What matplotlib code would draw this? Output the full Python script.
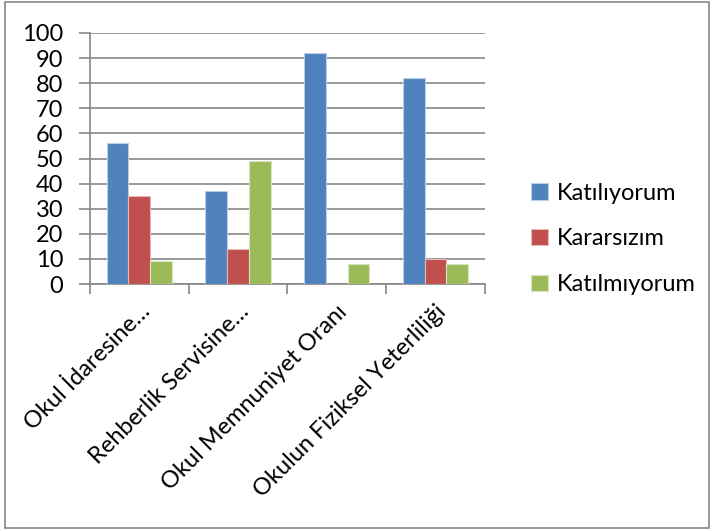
import numpy as np
import matplotlib.pyplot as plt
from matplotlib.patches import Rectangle

categories = ["Okul İdaresine…", "Rehberlik Servisine…",
              "Okul Memnuniyet Oranı", "Okulun Fiziksel Yeterliliği"]
katiliyorum = [56, 37, 92, 82]
kararsizim = [35, 14, 0, 10]
katilmiyorum = [9, 49, 8, 8]

series_names = ["Katılıyorum", "Kararsızım", "Katılmıyorum"]
colors = ["#4F81BD", "#C0504D", "#9BBB59"]
edges = ["#B9CDE5", "#E6B9B8", "#D7E4BD"]

plt.rcParams['font.family'] = ['Lato', 'DejaVu Sans']

fig = plt.figure(figsize=(7.13, 5.31), dpi=100)
ax = fig.add_axes([0.126, 0.465, 0.554, 0.473])

x = np.arange(len(categories))
w = 0.22
for i, vals in enumerate([katiliyorum, kararsizim, katilmiyorum]):
    ax.bar(x + (i - 1) * w, vals, width=w, color=colors[i],
           edgecolor=edges[i], linewidth=0.8, label=series_names[i], zorder=3)

ax.set_xlim(-0.5, len(categories) - 0.5)
ax.set_ylim(0, 100)
ax.set_yticks(range(0, 101, 10))
ax.yaxis.grid(True, color="#868686", linewidth=1.2, zorder=0)

# ticks at category borders, labels at centers
ax.set_xticks(np.arange(len(categories) + 1) - 0.5)
ax.set_xticklabels([])
ax.set_xticks(x, minor=True)
ax.set_xticklabels(categories, minor=True, rotation=45, ha="right",
                   rotation_mode="anchor", fontsize=17)
ax.tick_params(axis="x", which="minor", length=0, pad=12)
ax.tick_params(axis="x", which="major", length=7, color="#868686", width=1.2)
ax.tick_params(axis="y", length=8, color="#868686", width=1.2, labelsize=17,
               pad=11)

for s in ["top", "right"]:
    ax.spines[s].set_visible(False)
for s in ["left", "bottom"]:
    ax.spines[s].set_color("#868686")
    ax.spines[s].set_linewidth(1.2)

ax.legend(loc="center left", bbox_to_anchor=(0.715, 0.55),
          bbox_transform=fig.transFigure, frameon=False, fontsize=17,
          handlelength=0.7, handleheight=0.7, labelspacing=1.05,
          handletextpad=0.4)

fig.patches.append(Rectangle((0.007, 0.006), 0.988, 0.99, transform=fig.transFigure,
                             fill=False, edgecolor="#868686", linewidth=1.2))

fig.savefig("out.png", dpi=100)
